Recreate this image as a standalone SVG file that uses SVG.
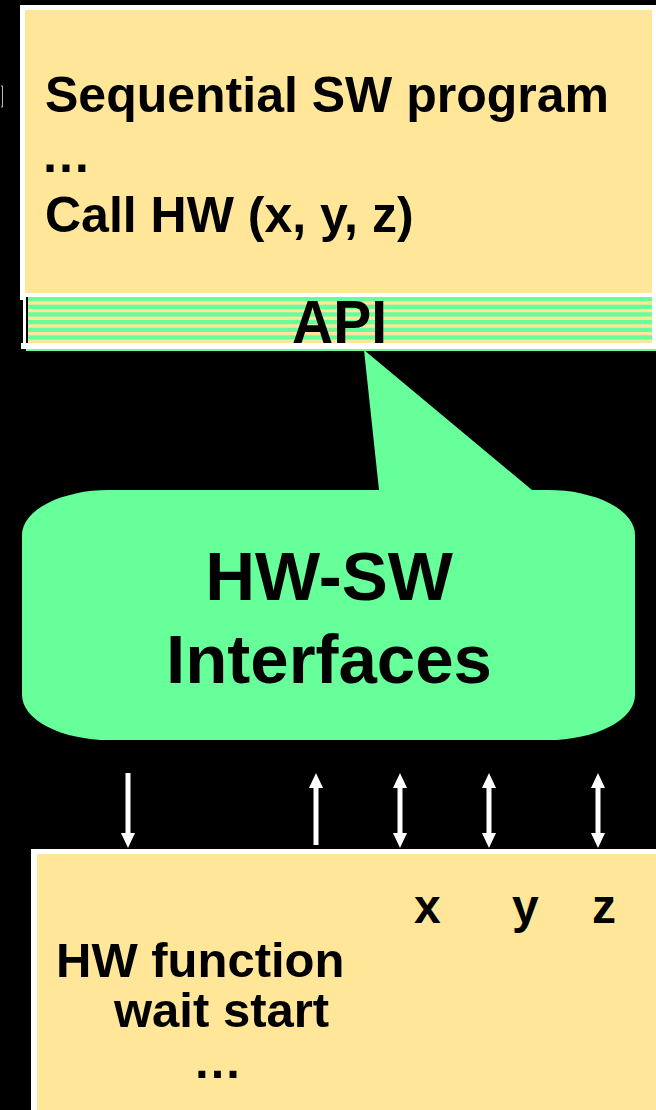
<svg xmlns="http://www.w3.org/2000/svg" width="656" height="1110" viewBox="0 0 656 1110">
<style>
  .t { font-family: "Liberation Sans", Arial, sans-serif; font-weight: bold; fill: #000; }
  .conn { stroke: #fff; stroke-width: 5; fill: none; }
  .yel { fill: #FFE699; }
  .wht { fill: #fff; }
  .grn { fill: #66FF99; }
</style>
<defs>
  <marker id="ah" viewBox="0 0 15 14" refX="9" refY="7" markerWidth="15" markerHeight="14" markerUnits="userSpaceOnUse" orient="auto-start-reverse">
    <path d="M0,0 L15,7 L0,14 z" fill="#fff"/>
  </marker>
</defs>
<rect x="0" y="0" width="656" height="1110" fill="#000"/>
<path d="M1,86 L2.5,86 L2.5,107 L1,107" fill="none" stroke="#bbb" stroke-width="1"/>

<g id="sw-program">
  <rect class="wht" x="20" y="5" width="636" height="295"/>
  <rect class="yel" x="25" y="10" width="627" height="283"/>
  <text class="t" x="45" y="112" font-size="50">Sequential SW program</text>
  <text class="t" x="41" y="172" font-size="50">…</text>
  <text class="t" x="45" y="232" font-size="50">Call HW (x, y, z)</text>
</g>

<g id="api">
  <rect class="wht" x="23" y="297" width="633" height="46"/>
  <rect x="26" y="297" width="2" height="46" fill="#000"/>
  <rect class="yel" x="28" y="297" width="624" height="46"/>
  <rect class="grn" x="28" y="297" width="624" height="4.3"/>
  <rect class="grn" x="28" y="304.7" width="624" height="4.3"/>
  <rect class="grn" x="28" y="312.3" width="624" height="4.3"/>
  <rect class="grn" x="28" y="320" width="624" height="4.3"/>
  <rect class="grn" x="28" y="327.7" width="624" height="4.3"/>
  <rect class="grn" x="28" y="335.3" width="624" height="4.3"/>
  <rect class="wht" x="21" y="343" width="635" height="6"/>
  <rect class="grn" x="26" y="349" width="630" height="2"/>
  <text class="t" x="292" y="343" font-size="62" textLength="95" lengthAdjust="spacingAndGlyphs">API</text>
</g>

<g id="hw-sw-interfaces">
  <path d="M109,490 L379,490 L364,350 L532,490 L548,490 A87,45 0 0 1 635,535 L635,695 A87,45 0 0 1 548,740 L109,740 A87,45 0 0 1 22,695 L22,535 A87,45 0 0 1 109,490 Z" fill="#66FF99"/>
  <text class="t" x="329" y="600" font-size="69" text-anchor="middle">HW-SW</text>
  <text class="t" x="329" y="683" font-size="69" text-anchor="middle">Interfaces</text>
</g>

<g id="connectors">
  <path class="conn" d="M128,773 L128,842" marker-end="url(#ah)"/>
  <path class="conn" d="M316,779 L316,845" marker-start="url(#ah)"/>
  <path class="conn" d="M400,779 L400,842" marker-start="url(#ah)" marker-end="url(#ah)"/>
  <path class="conn" d="M489,779 L489,842" marker-start="url(#ah)" marker-end="url(#ah)"/>
  <path class="conn" d="M598,779 L598,842" marker-start="url(#ah)" marker-end="url(#ah)"/>
</g>

<g id="hw-function">
  <rect class="wht" x="31" y="849" width="625" height="261"/>
  <rect class="yel" x="37" y="854" width="619" height="256"/>
  <text class="t" x="414" y="923" font-size="48">x</text>
  <text class="t" x="512" y="923" font-size="48">y</text>
  <text class="t" x="592" y="923" font-size="48">z</text>
  <text class="t" x="56" y="977" font-size="49">HW function</text>
  <text class="t" x="114" y="1027" font-size="49">wait start</text>
  <text class="t" x="193" y="1078" font-size="49">…</text>
</g>
</svg>
